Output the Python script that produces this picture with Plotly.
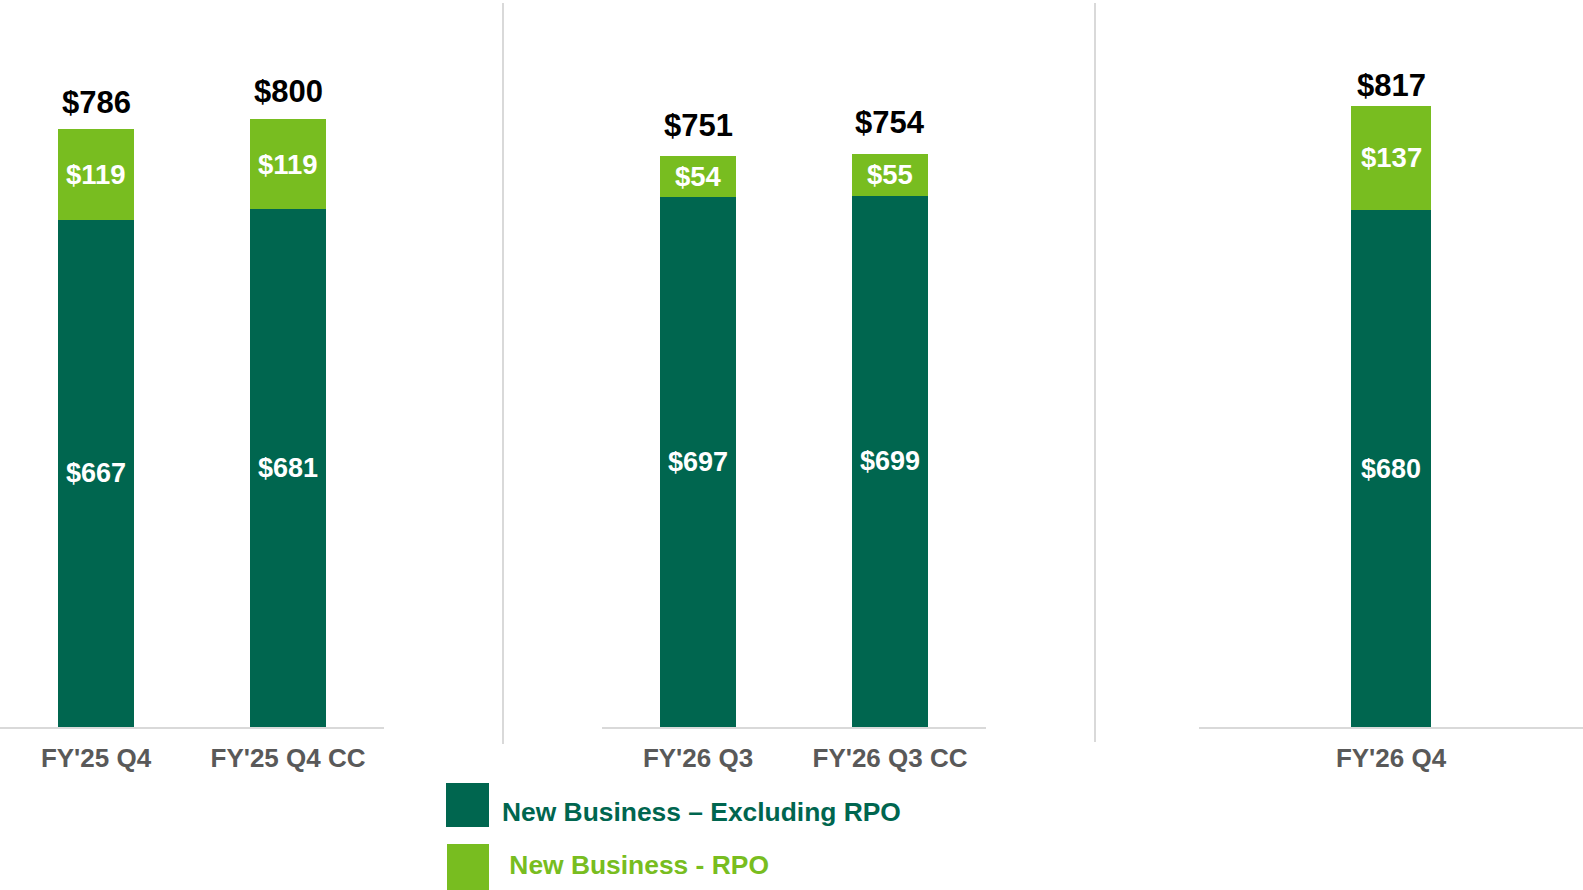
import plotly.graph_objects as go

# ---- data ----
panel1_categories = ["FY'25 Q4", "FY'25 Q4 CC"]
panel1_excl_rpo = [667, 681]
panel1_rpo = [119, 119]
panel1_totals = [786, 800]

panel2_categories = ["FY'26 Q3", "FY'26 Q3 CC"]
panel2_excl_rpo = [697, 699]
panel2_rpo = [54, 55]
panel2_totals = [751, 754]

panel3_categories = ["FY'26 Q4"]
panel3_excl_rpo = [680]
panel3_rpo = [137]
panel3_totals = [817]

series_names = ["New Business \u2013 Excluding RPO", "New Business - RPO"]
legend_labels = ["New Business \u2013 Excluding RPO", " New Business - RPO"]

# ---- style ----
W, H = 1583, 890
DARK = "#00664F"
LIGHT = "#78BD20"
GRID = "#D9D9D9"
TICK = "#595959"
FONT = "Liberation Sans, Arial, sans-serif"

# pixel offsets of the total labels above each bar (style only)
total_shift_p1 = [27, 27]
total_shift_p2 = [31, 31]
total_shift_p3 = [20]

panels = [
    (panel1_categories, panel1_excl_rpo, panel1_rpo, panel1_totals, total_shift_p1, "x", "y", [0, 384 / W], 0.40),
    (panel2_categories, panel2_excl_rpo, panel2_rpo, panel2_totals, total_shift_p2, "x2", "y2", [602 / W, 986 / W], 0.40),
    (panel3_categories, panel3_excl_rpo, panel3_rpo, panel3_totals, total_shift_p3, "x3", "y3", [1199 / W, 1.0], 0.21),
]

fig = go.Figure()
annotations = []
y_dom = [(H - 727) / H, 1.0]
y_range = [0, 727 / 0.7603]

layout_axes = {}
for i, (cats, excl, rpo, tot, shifts, xa, ya, xdom, bw) in enumerate(panels):
    fig.add_trace(go.Bar(x=cats, y=excl, name=series_names[0], marker_color=DARK,
                         marker_line_width=0, width=bw, xaxis=xa, yaxis=ya, showlegend=False,
                         hoverinfo="skip"))
    fig.add_trace(go.Bar(x=cats, y=rpo, name=series_names[1], marker_color=LIGHT,
                         marker_line_width=0, width=bw, xaxis=xa, yaxis=ya, showlegend=False,
                         hoverinfo="skip"))
    for c, e, r, t, s in zip(cats, excl, rpo, tot, shifts):
        annotations.append(dict(x=c, y=e / 2, xref=xa, yref=ya, text=f"${e}", showarrow=False,
                                font=dict(family=FONT, size=27, color="white", weight="bold")))
        annotations.append(dict(x=c, y=e + r / 2, xref=xa, yref=ya, text=f"${r}", showarrow=False,
                                font=dict(family=FONT, size=27.5, color="white", weight="bold")))
        annotations.append(dict(x=c, y=t, xref=xa, yref=ya, text=f"${t}", showarrow=False,
                                yanchor="middle", yshift=s,
                                font=dict(family=FONT, size=31, color="black", weight="bold")))
    xkey = "xaxis" if i == 0 else f"xaxis{i + 1}"
    ykey = "yaxis" if i == 0 else f"yaxis{i + 1}"
    layout_axes[xkey] = dict(domain=xdom, anchor=ya, showgrid=False, zeroline=False,
                             showline=True, linecolor=GRID, linewidth=2,
                             ticks="outside", ticklen=7, tickcolor="rgba(0,0,0,0)",
                             tickfont=dict(family=FONT, size=26, color=TICK, weight="bold"),
                             fixedrange=True)
    layout_axes[ykey] = dict(domain=y_dom, anchor=xa, range=y_range, visible=False,
                             fixedrange=True)

# legend (custom, drawn as squares + text)
legend_colors = [DARK, LIGHT]
legend_boxes = [(446, 489, 783, 827), (447, 489, 844, 890)]
legend_text_pos = [(500, 812), (500, 865)]
shapes = []
for col, (x0, x1, y0, y1), (tx, ty), lab in zip(legend_colors, legend_boxes, legend_text_pos, legend_labels):
    shapes.append(dict(type="rect", xref="paper", yref="paper", x0=x0 / W, x1=x1 / W,
                       y0=(H - y1) / H, y1=(H - y0) / H, fillcolor=col, line_width=0))
    annotations.append(dict(x=tx / W, y=(H - ty) / H, xref="paper", yref="paper", text=lab,
                            showarrow=False, xanchor="left", yanchor="middle",
                            font=dict(family=FONT, size=26.4, color=col, weight="bold")))

# vertical separators
for sx, sy0, sy1 in [(503, 744, 3), (1095, 742, 3)]:
    shapes.append(dict(type="line", xref="paper", yref="paper", x0=sx / W, x1=sx / W,
                       y0=(H - sy0) / H, y1=(H - sy1) / H, line=dict(color=GRID, width=2)))

fig.update_layout(
    width=W, height=H,
    margin=dict(l=0, r=0, t=0, b=0),
    barmode="stack",
    paper_bgcolor="white", plot_bgcolor="white",
    font=dict(family=FONT),
    annotations=annotations,
    shapes=shapes,
    **layout_axes,
)

fig.write_html("out.html", config={"displayModeBar": False},
               post_script="document.body.style.margin='0';document.body.style.overflow='hidden';")
